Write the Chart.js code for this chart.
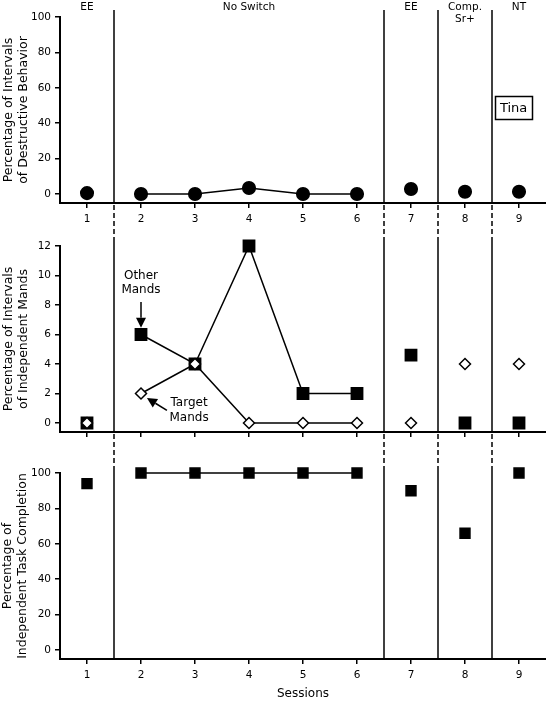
<!DOCTYPE html>
<html>
<head>
  <meta charset="UTF-8">
  <title>Tina - Sessions</title>
  <script src="https://cdn.jsdelivr.net/npm/chart.js"></script>
  <style>
    body { margin: 0; background: #fff; }
    #wrap { position: relative; width: 546px; height: 701px; overflow: hidden; }
    #wrap canvas { position: absolute; left: 0; }
  </style>
</head>
<body>
  <div id="wrap">
    <canvas id="destructive" width="546" height="240" style="top:0"></canvas>
    <canvas id="mands" width="546" height="236" style="top:232px"></canvas>
    <canvas id="tasks" width="546" height="241" style="top:460px"></canvas>
  </div>

  <script>
    const sessions = [1, 2, 3, 4, 5, 6, 7, 8, 9];
    const phaseBreaks = [1.5, 6.5, 7.5, 8.5];
    const phaseNames = [["EE"], ["No Switch"], ["EE"], ["Comp.", "Sr+"], ["NT"]];
    const destructive = [0.5, 0, 0, 3.4, 0, 0, 2.8, 1.3, 1.3];
    const otherMands = [0, 6, 4, 12, 2, 2, 4.6, 0, 0];
    const targetMands = [0, 2, 4, 0, 0, 0, 0, 4, 4];
    const taskCompletion = [94, 100, 100, 100, 100, 100, 90, 66, 100];
    const pctTicks = [0, 20, 40, 60, 80, 100];
    const mandTicks = [0, 2, 4, 6, 8, 10, 12];

    const FONT = "'DejaVu Sans', Verdana, sans-serif";
    Chart.defaults.font.family = FONT;
    Chart.defaults.color = "#000";

    const pts = vals => sessions.map((s, i) => ({ x: s, y: vals[i] }));

    // no connecting line across a phase change
    const phaseSegment = {
      borderColor: ctx => phaseBreaks.some(b => b > ctx.p0.parsed.x && b < ctx.p1.parsed.x) ? "transparent" : "#000"
    };

    const phasePlugin = {
      id: "phases",
      beforeDatasetsDraw(chart, args, opts) {
        const { ctx, chartArea: a, scales: { x, y } } = chart;
        ctx.save();
        ctx.strokeStyle = "#000";
        ctx.lineWidth = 1.5;
        phaseBreaks.forEach(b => {
          const px = Math.round(x.getPixelForValue(b));
          ctx.setLineDash([]);
          ctx.beginPath();
          ctx.moveTo(px, a.top - opts.above);
          ctx.lineTo(px, a.bottom);
          ctx.stroke();
          if (opts.below) {
            ctx.setLineDash([5, 3]);
            ctx.beginPath();
            ctx.moveTo(px, a.bottom + 2);
            ctx.lineTo(px, chart.height);
            ctx.stroke();
          }
        });
        ctx.setLineDash([]);

        if (opts.labels) {
          ctx.fillStyle = "#000";
          ctx.font = "10.5px " + FONT;
          ctx.textAlign = "center";
          ctx.textBaseline = "alphabetic";
          const edges = [x.min].concat(phaseBreaks, [x.max]);
          phaseNames.forEach((lines, i) => {
            const cx = x.getPixelForValue((edges[i] + edges[i + 1]) / 2);
            lines.forEach((t, j) => ctx.fillText(t, cx, 9.5 + j * 12));
          });
        }

        if (opts.tina) {
          const cx = x.getPixelForValue(8.9), cy = y.getPixelForValue(49);
          ctx.lineWidth = 1.5;
          ctx.strokeRect(Math.round(cx - 18.5) + 0.5, Math.round(cy - 11.5) + 0.5, 37, 23);
          ctx.font = "13px " + FONT;
          ctx.textAlign = "center";
          ctx.textBaseline = "middle";
          ctx.fillStyle = "#000";
          ctx.fillText("Tina", cx, cy + 1);
        }

        if (opts.notes) {
          ctx.font = "12px " + FONT;
          ctx.textAlign = "center";
          ctx.textBaseline = "middle";
          ctx.fillStyle = "#000";
          ctx.fillText("Other", x.getPixelForValue(2), y.getPixelForValue(10));
          ctx.fillText("Mands", x.getPixelForValue(2), y.getPixelForValue(9));
          ctx.fillText("Target", x.getPixelForValue(2.89), y.getPixelForValue(1.36));
          ctx.fillText("Mands", x.getPixelForValue(2.89), y.getPixelForValue(0.34));
          arrow(ctx, x.getPixelForValue(2), y.getPixelForValue(8.2), x.getPixelForValue(2), y.getPixelForValue(6.45));
          arrow(ctx, x.getPixelForValue(2.48), y.getPixelForValue(0.85), x.getPixelForValue(2.11), y.getPixelForValue(1.7));
        }
        ctx.restore();
      }
    };

    function arrow(ctx, x0, y0, x1, y1) {
      const ang = Math.atan2(y1 - y0, x1 - x0);
      const len = 10, half = 5;
      const bx = x1 - Math.cos(ang) * len, by = y1 - Math.sin(ang) * len;
      ctx.lineWidth = 1.5;
      ctx.beginPath();
      ctx.moveTo(x0, y0);
      ctx.lineTo(bx, by);
      ctx.stroke();
      ctx.beginPath();
      ctx.moveTo(x1, y1);
      ctx.lineTo(bx - Math.sin(ang) * half, by + Math.cos(ang) * half);
      ctx.lineTo(bx + Math.sin(ang) * half, by - Math.cos(ang) * half);
      ctx.closePath();
      ctx.fill();
    }

    function axisStyle() {
      return {
        border: { color: "#000", width: 2 },
        grid: { display: true, drawOnChartArea: false, tickLength: 5, color: "#000", lineWidth: 1.5 }
      };
    }

    function makePanel(id, p) {
      return new Chart(document.getElementById(id), {
        type: "line",
        data: { datasets: p.datasets },
        plugins: [phasePlugin],
        options: {
          responsive: false,
          animation: false,
          events: [],
          layout: { autoPadding: false, padding: { top: p.padTop, left: 0, right: 0, bottom: 0 } },
          plugins: {
            legend: { display: false },
            tooltip: { enabled: false },
            phases: p.phases
          },
          scales: {
            x: Object.assign(axisStyle(), {
              type: "linear",
              min: 0.5,
              max: 9.5,
              afterBuildTicks: s => { s.ticks = sessions.map(v => ({ value: v })); },
              afterFit: s => { s.height = p.xHeight; s.paddingLeft = 0; s.paddingRight = 0; },
              ticks: {
                font: { size: 10.5 },
                padding: 5,
                callback: v => p.xLabels ? String(v) : ""
              },
              title: p.xTitle ? {
                display: true, text: p.xTitle, font: { size: 12 }, padding: { top: 2, bottom: 0 }
              } : { display: false }
            }),
            y: Object.assign(axisStyle(), {
              min: p.yMin,
              max: p.yMax,
              afterBuildTicks: s => { s.ticks = p.yTicks.map(v => ({ value: v })); },
              afterFit: s => { s.width = 60; s.paddingTop = 0; s.paddingBottom = 0; },
              ticks: { font: { size: 10.5 }, padding: 4 },
              title: {
                display: true, text: p.yTitle, font: { size: 12.5, lineHeight: 1.2 },
                padding: { top: p.yTitlePad, bottom: 0 }
              }
            })
          }
        }
      });
    }

    makePanel("destructive", {
      padTop: 17, xHeight: 37, xLabels: true,
      yMin: -5.08, yMax: 100, yTicks: pctTicks, yTitlePad: 1,
      yTitle: ["Percentage of Intervals", "of Destructive Behavior"],
      phases: { above: 7, below: true, labels: true, tina: true },
      datasets: [{
        data: pts(destructive),
        borderColor: "#000", borderWidth: 1.5,
        pointStyle: "circle", pointRadius: 6.3,
        pointBackgroundColor: "#000", pointBorderColor: "#000",
        segment: phaseSegment, clip: false
      }]
    });

    makePanel("mands", {
      padTop: 14, xHeight: 36, xLabels: false,
      yMin: -0.61, yMax: 12, yTicks: mandTicks, yTitlePad: 1,
      yTitle: ["Percentage of Intervals", "of Independent Mands"],
      phases: { above: 6, below: true, notes: true },
      datasets: [{
        label: "Target Mands",
        data: pts(targetMands),
        borderColor: "#000", borderWidth: 1.5,
        pointStyle: "rectRot", pointRadius: 5.5,
        pointBackgroundColor: "#fff", pointBorderColor: "#000", pointBorderWidth: 1.5,
        segment: phaseSegment, clip: false
      }, {
        label: "Other Mands",
        data: pts(otherMands),
        borderColor: "#000", borderWidth: 1.5,
        pointStyle: "rect", pointRadius: 8,
        pointBackgroundColor: "#000", pointBorderColor: "#000",
        segment: phaseSegment, clip: false
      }]
    });

    makePanel("tasks", {
      padTop: 13, xHeight: 42, xLabels: true, xTitle: "Sessions",
      yMin: -5.08, yMax: 100, yTicks: pctTicks, yTitlePad: 0,
      yTitle: ["Percentage of", "Independent Task Completion"],
      phases: { above: 5, below: false },
      datasets: [{
        data: pts(taskCompletion),
        borderColor: "#000", borderWidth: 1.5,
        pointStyle: "rect", pointRadius: 7,
        pointBackgroundColor: "#000", pointBorderColor: "#000",
        segment: phaseSegment, clip: false
      }]
    });
  </script>
</body>
</html>
